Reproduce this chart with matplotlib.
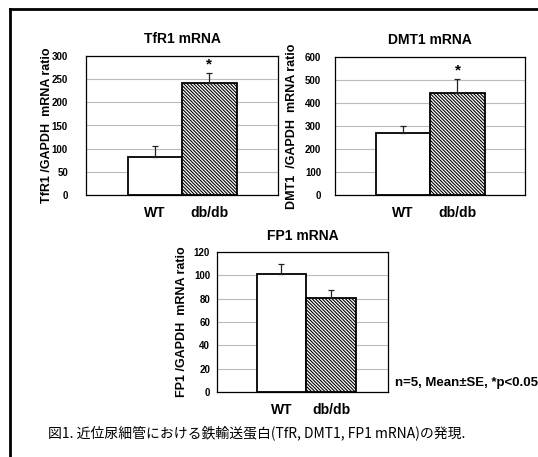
import numpy as np
import matplotlib.pyplot as plt
from matplotlib.lines import Line2D

plt.rcParams['font.family'] = ['Liberation Sans', 'DejaVu Sans']
plt.rcParams['hatch.linewidth'] = 0.8

groups = ['WT', 'db/db']
tfr1_mean = [82, 242]
tfr1_se = [24, 21]
dmt1_mean = [270, 443]
dmt1_se = [30, 60]
fp1_mean = [101, 80.5]
fp1_se = [8.5, 7]
stars = ['', '*']
stars_fp1 = ['', '']

W, H = 538, 457
fig = plt.figure(figsize=(W / 100, H / 100), dpi=100)

def px_axes(x0, y0, x1, y1):
    return fig.add_axes([x0 / W, 1 - y1 / H, (x1 - x0) / W, (y1 - y0) / H])

def panel(ax, means, errs, ymax, step, title, ylab, xlim, marks, ypad, labx):
    x = np.arange(len(groups))
    ax.bar(x, means, width=1.0, color=['white', 'white'], edgecolor='black',
           linewidth=1.3, hatch=['', '\\' * 10], zorder=3)
    ax.errorbar(x, means, yerr=[[0, 0], errs], fmt='none', ecolor='#222222',
                elinewidth=0.9, capsize=2.5, capthick=0.9, zorder=4)
    for xi, m, e, s in zip(x, means, errs, marks):
        if s:
            ax.text(xi, m + e + ymax * 0.015, s, ha='center', va='bottom',
                    fontsize=11, fontweight='bold')
    ax.set_xlim(*xlim)
    ax.set_ylim(0, ymax)
    ax.set_yticks(np.arange(0, ymax + 1, step))
    ax.yaxis.grid(True, color='#bbbbbb', linewidth=0.8, zorder=0)
    ax.set_axisbelow(True)
    ax.set_xticks(x)
    ax.set_xticklabels(groups, fontsize=10, fontweight='bold')
    ax.tick_params(axis='x', length=0, pad=8)
    ax.tick_params(axis='y', length=0, labelsize=7, pad=ypad)
    for lab in ax.get_yticklabels():
        lab.set_fontweight('bold')
    for sp in ax.spines.values():
        sp.set_linewidth(0.9)
    ax.set_title(title, fontsize=10, fontweight='bold', pad=9)
    ax.set_ylabel(ylab, fontsize=9, fontweight='bold')
    ax.yaxis.set_label_coords(labx, 0.5)

ax1 = px_axes(86, 56, 278, 195)
panel(ax1, tfr1_mean, tfr1_se, 300, 50, 'TfR1 mRNA',
      'TfR1 /GAPDH  mRNA ratio', (-1.27, 2.26), stars, 13, (53 - 86) / 192)

ax2 = px_axes(335, 57, 525, 195)
panel(ax2, dmt1_mean, dmt1_se, 600, 100, 'DMT1 mRNA',
      'DMT1  /GAPDH  mRNA ratio', (-1.25, 2.24), stars, 10, (298 - 335) / 190)

ax3 = px_axes(217, 252, 388, 392)
panel(ax3, fp1_mean, fp1_se, 120, 20, 'FP1 mRNA',
      'FP1 /GAPDH  mRNA ratio', (-1.30, 2.15), stars_fp1, 5, (188 - 217) / 171)

fig.text(395 / W, 1 - 383 / H, 'n=5, Mean\u00b1SE, *p<0.05', fontsize=9.5,
         fontweight='bold', va='center', ha='left')
fig.text(48 / W, 1 - 433 / H,
         '図1. 近位尿細管における鉄輸送蛋白(TfR, DMT1, FP1 mRNA)の発現.',
         fontsize=10, va='center', ha='left',
         family=['Noto Sans CJK JP', 'DejaVu Sans'])

fig.add_artist(Line2D([9.5 / W, 9.5 / W], [0, 1 - 8.5 / H], color='black', linewidth=2))
fig.add_artist(Line2D([9.5 / W, 1], [1 - 8.5 / H, 1 - 8.5 / H], color='black', linewidth=2))

plt.savefig('out.png', dpi=100)
